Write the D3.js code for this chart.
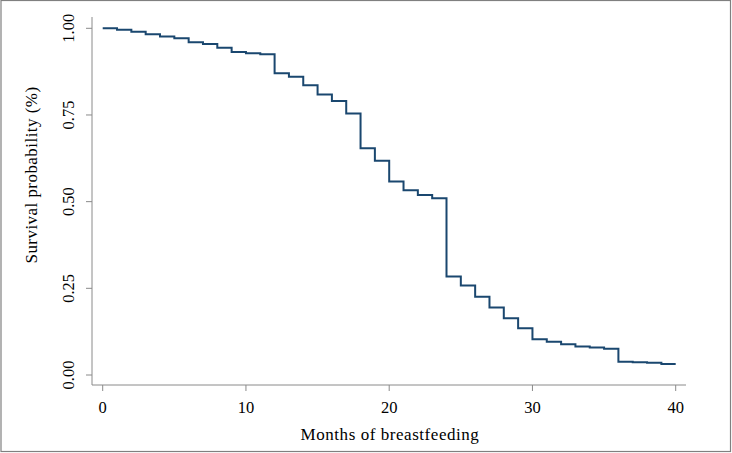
<!DOCTYPE html>
<html>
<head>
<meta charset="utf-8">
<script src="https://cdn.jsdelivr.net/npm/d3@7"></script>
<style>
  body { margin: 0; background: #fff; }
  text { font-family: "Liberation Serif", "Times New Roman", serif; fill: #000; }
</style>
</head>
<body>
<div id="km_graphic"></div>
<script>
// months of follow-up and Kaplan-Meier survival estimate at each month
var months = [0, 1, 2, 3, 4, 5, 6, 7, 8, 9, 10, 11, 12, 13, 14, 15, 16, 17, 18, 19, 20,
              21, 22, 23, 24, 25, 26, 27, 28, 29, 30, 31, 32, 33, 34, 35, 36, 37, 38, 39, 40];
var survival = [1.000, 0.996, 0.990, 0.983, 0.976, 0.971, 0.960, 0.955, 0.944, 0.932, 0.928,
                0.925, 0.870, 0.860, 0.836, 0.809, 0.790, 0.754, 0.654, 0.618, 0.558,
                0.533, 0.519, 0.510, 0.284, 0.258, 0.226, 0.195, 0.164, 0.135, 0.103,
                0.096, 0.089, 0.082, 0.079, 0.076, 0.038, 0.037, 0.035, 0.032, 0.032];
var xTicks = [0, 10, 20, 30, 40];
var yTicks = [0, 0.25, 0.5, 0.75, 1];

var width = 732, height = 453;

var svg = d3.select("#km_graphic").append("svg")
    .attr("width", width)
    .attr("height", height);

// outer frame
svg.append("rect")
    .attr("x", 1).attr("y", 0.5)
    .attr("width", 729.5).attr("height", 451)
    .attr("fill", "#fff")
    .attr("stroke", "#808080")
    .attr("stroke-width", 1.2);

var x = d3.scaleLinear().domain([0, 40]).range([102.7, 675.7]);
var y = d3.scaleLinear().domain([0, 1]).range([375, 28.3]);

var axisColor = "#8a8a8a";

// y axis
var gy = svg.append("g").attr("transform", "translate(92,0)");
gy.append("line")
    .attr("x1", 0).attr("x2", 0)
    .attr("y1", 17).attr("y2", 385)
    .attr("stroke", axisColor);
gy.selectAll(".tick").data(yTicks).enter().append("line")
    .attr("x1", -6).attr("x2", 0)
    .attr("y1", function (d) { return y(d); })
    .attr("y2", function (d) { return y(d); })
    .attr("stroke", axisColor);
gy.selectAll(".lbl").data(yTicks).enter().append("text")
    .attr("transform", function (d) { return "translate(-18," + y(d) + ") rotate(-90)"; })
    .attr("text-anchor", "middle")
    .style("font-size", "16.5px")
    .text(function (d) { return d3.format(".2f")(d); });

// x axis
var gx = svg.append("g").attr("transform", "translate(0,385)");
gx.append("line")
    .attr("x1", 92).attr("x2", 686)
    .attr("y1", 0).attr("y2", 0)
    .attr("stroke", axisColor);
gx.selectAll(".tick").data(xTicks).enter().append("line")
    .attr("x1", function (d) { return x(d); })
    .attr("x2", function (d) { return x(d); })
    .attr("y1", 0).attr("y2", 6)
    .attr("stroke", axisColor);
gx.selectAll(".lbl").data(xTicks).enter().append("text")
    .attr("x", function (d) { return x(d); })
    .attr("y", 27.5)
    .attr("text-anchor", "middle")
    .style("font-size", "16.5px")
    .text(function (d) { return d; });

// axis titles
svg.append("text")
    .attr("x", 390).attr("y", 440)
    .attr("text-anchor", "middle")
    .style("font-size", "17px")
    .style("letter-spacing", "0.55px")
    .text("Months of breastfeeding");

svg.append("text")
    .attr("transform", "translate(37,175) rotate(-90)")
    .attr("text-anchor", "middle")
    .style("font-size", "17px")
    .style("letter-spacing", "0.45px")
    .text("Survival probability (%)");

// survival curve
var pts = months.map(function (m, i) { return [m, survival[i]]; });
var line = d3.line()
    .x(function (d) { return x(d[0]); })
    .y(function (d) { return y(d[1]); })
    .curve(d3.curveStepAfter);

svg.append("path")
    .datum(pts)
    .attr("d", line)
    .attr("fill", "none")
    .attr("stroke", "#1a476f")
    .attr("stroke-width", 2);
</script>
</body>
</html>
